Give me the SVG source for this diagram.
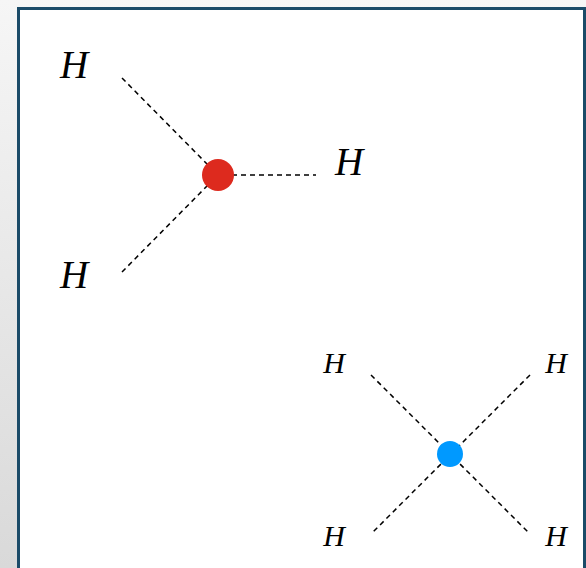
<svg xmlns="http://www.w3.org/2000/svg" width="586" height="568" viewBox="0 0 586 568">
<defs>
<linearGradient id="bg" x1="0" y1="0" x2="0" y2="1">
<stop offset="0" stop-color="#f6f6f6"/>
<stop offset="1" stop-color="#d9d9d9"/>
</linearGradient>
<style>
.h{font-family:"Liberation Serif","DejaVu Serif",serif;font-style:italic;fill:#000;text-anchor:middle}
.big{font-size:39px}
.sm{font-size:30px}
.bond{stroke:#000;stroke-width:1.5;stroke-dasharray:5,4;fill:none}
</style>
</defs>
<rect x="0" y="0" width="586" height="568" fill="url(#bg)"/>
<rect id="frame" x="18.5" y="8.5" width="566" height="580" fill="#fff" stroke="#1b4b68" stroke-width="3"/>
<g id="connectors">
<line class="bond" x1="122" y1="78" x2="210" y2="167"/>
<line class="bond" x1="232" y1="175" x2="316" y2="175"/>
<line class="bond" x1="122" y1="272" x2="210" y2="183"/>
<line class="bond" x1="371" y1="375" x2="530" y2="534"/>
<line class="bond" x1="530" y1="375" x2="371" y2="534"/>
</g>
<g id="red-center"><circle cx="218" cy="175" r="16" fill="#dd2a1e"/></g>
<g id="blue-center"><circle cx="450" cy="454" r="13" fill="#0099ff"/></g>
<g id="h1"><text class="h big" x="74" y="78">H</text></g>
<g id="h2"><text class="h big" x="349" y="175">H</text></g>
<g id="h3"><text class="h big" x="74" y="288">H</text></g>
<g id="h4"><text class="h sm" x="334" y="373">H</text></g>
<g id="h5"><text class="h sm" x="556" y="373">H</text></g>
<g id="h6"><text class="h sm" x="334" y="546">H</text></g>
<g id="h7"><text class="h sm" x="556" y="546">H</text></g>
</svg>
